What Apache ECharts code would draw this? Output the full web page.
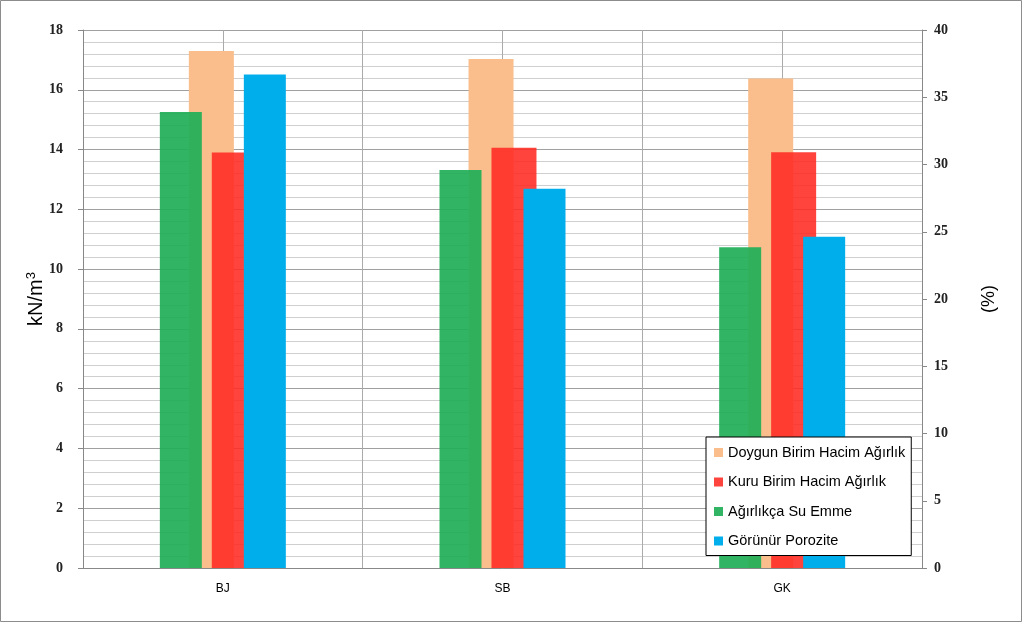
<!DOCTYPE html>
<html>
<head>
<meta charset="utf-8">
<script src="https://cdn.jsdelivr.net/npm/echarts@6/dist/echarts.min.js"></script>
<style>
html,body{margin:0;padding:0;background:#fff;}
#chart{width:1023px;height:624px;}
</style>
</head>
<body>
<div id="chart"></div>
<script>
var categories = ['BJ', 'SB', 'GK'];
var doygun = [17.3, 17.03, 16.38];      // kN/m3
var kuru = [13.9, 14.06, 13.91];        // kN/m3
var suEmme = [33.9, 29.6, 23.85];       // %
var porozite = [36.7, 28.2, 24.63];     // %
var leftTicks = [0, 2, 4, 6, 8, 10, 12, 14, 16, 18];
var rightTicks = [0, 5, 10, 15, 20, 25, 30, 35, 40];

var chart = echarts.init(document.getElementById('chart'));
var numFont = {fontFamily: 'Liberation Serif', fontSize: 14, fontWeight: 'bold', color: '#222'};
var option = {
  animation: false,
  backgroundColor: '#fff',
  graphic: [{
    type: 'rect', shape: {x: 0.5, y: 0.5, width: 1021, height: 621},
    style: {fill: 'none', stroke: '#8c8c8c', lineWidth: 1}, silent: true, z: -1
  }],
  grid: {left: 83, right: 101, top: 30, bottom: 56},
  legend: {
    orient: 'vertical',
    left: 706, top: 437,
    z: 20,
    padding: [8, 6, 7, 8],
    itemGap: 14.5,
    itemWidth: 9, itemHeight: 9,
    icon: 'rect',
    backgroundColor: '#fff',
    borderColor: '#000', borderWidth: 1,
    textStyle: {fontFamily: 'Liberation Sans', fontSize: 14.5, color: '#000'},
    data: ['Doygun Birim Hacim Ağırlık', 'Kuru Birim Hacim Ağırlık', 'Ağırlıkça Su Emme', 'Görünür Porozite']
  },
  xAxis: [{
    type: 'category', data: categories,
    axisLine: {lineStyle: {color: '#888'}},
    axisTick: {length: 5, lineStyle: {color: '#888'}},
    axisLabel: {fontFamily: 'Liberation Sans', fontSize: 12, color: '#000', margin: 15},
    splitLine: {show: true, lineStyle: {color: '#aaa'}}
  }, {
    type: 'category', data: categories, show: false
  }, {
    type: 'value', min: 0, max: 3, interval: 0.5, show: true,
    axisLine: {show: false}, axisTick: {show: false}, axisLabel: {show: false},
    splitLine: {show: true, lineStyle: {color: '#aaa'}}
  }],
  yAxis: [{
    type: 'value', min: 0, max: 18, interval: 2,
    name: 'kN/m{sup|3}', nameLocation: 'middle', nameGap: 36, nameRotate: 90,
    nameMoveOverlap: false,
    nameTextStyle: {fontFamily: 'Liberation Sans', fontSize: 20, color: '#000',
      rich: {sup: {fontFamily: 'Liberation Sans', fontSize: 13, verticalAlign: 'top', padding: [0, 0, 9, 0], color: '#000'}}},
    axisLine: {show: true, lineStyle: {color: '#888'}},
    axisTick: {show: true, length: 5, lineStyle: {color: '#888'}},
    axisLabel: Object.assign({margin: 20, formatter: function (v) { return leftTicks.indexOf(v) >= 0 ? String(v) : ''; }}, numFont),
    splitLine: {show: true, lineStyle: {color: '#a0a0a0'}},
    minorTick: {show: false, splitNumber: 5},
    minorSplitLine: {show: true, lineStyle: {color: '#cfcfcf'}}
  }, {
    type: 'value', min: 0, max: 40, interval: 5, position: 'right',
    name: '(%)', nameLocation: 'middle', nameGap: 58, nameRotate: 90,
    nameTextStyle: {fontFamily: 'Liberation Sans', fontSize: 18, color: '#000'},
    axisLine: {show: true, lineStyle: {color: '#888'}},
    axisTick: {show: true, length: 5, lineStyle: {color: '#888'}},
    axisLabel: Object.assign({margin: 12, formatter: function (v) { return rightTicks.indexOf(v) >= 0 ? String(v) : ''; }}, numFont),
    splitLine: {show: false}
  }],
  series: [{
    name: 'Doygun Birim Hacim Ağırlık', type: 'bar', xAxisIndex: 0, yAxisIndex: 0,
    data: doygun, barWidth: 45, barGap: '-49%', z: 2,
    itemStyle: {color: '#F9BE8C'}
  }, {
    name: 'Kuru Birim Hacim Ağırlık', type: 'bar', xAxisIndex: 0, yAxisIndex: 0,
    data: kuru, barWidth: 45, barGap: '-49%', z: 3,
    itemStyle: {color: '#FF2A22', opacity: 0.88}
  }, {
    name: 'Ağırlıkça Su Emme', type: 'bar', xAxisIndex: 1, yAxisIndex: 1,
    data: suEmme, barWidth: 42, barGap: '100%', z: 4,
    itemStyle: {color: '#1FAF58', opacity: 0.92}
  }, {
    name: 'Görünür Porozite', type: 'bar', xAxisIndex: 1, yAxisIndex: 1,
    data: porozite, barWidth: 42, barGap: '100%', z: 4,
    itemStyle: {color: '#00AEEB'}
  }]
};
chart.setOption(option);
</script>
</body>
</html>
